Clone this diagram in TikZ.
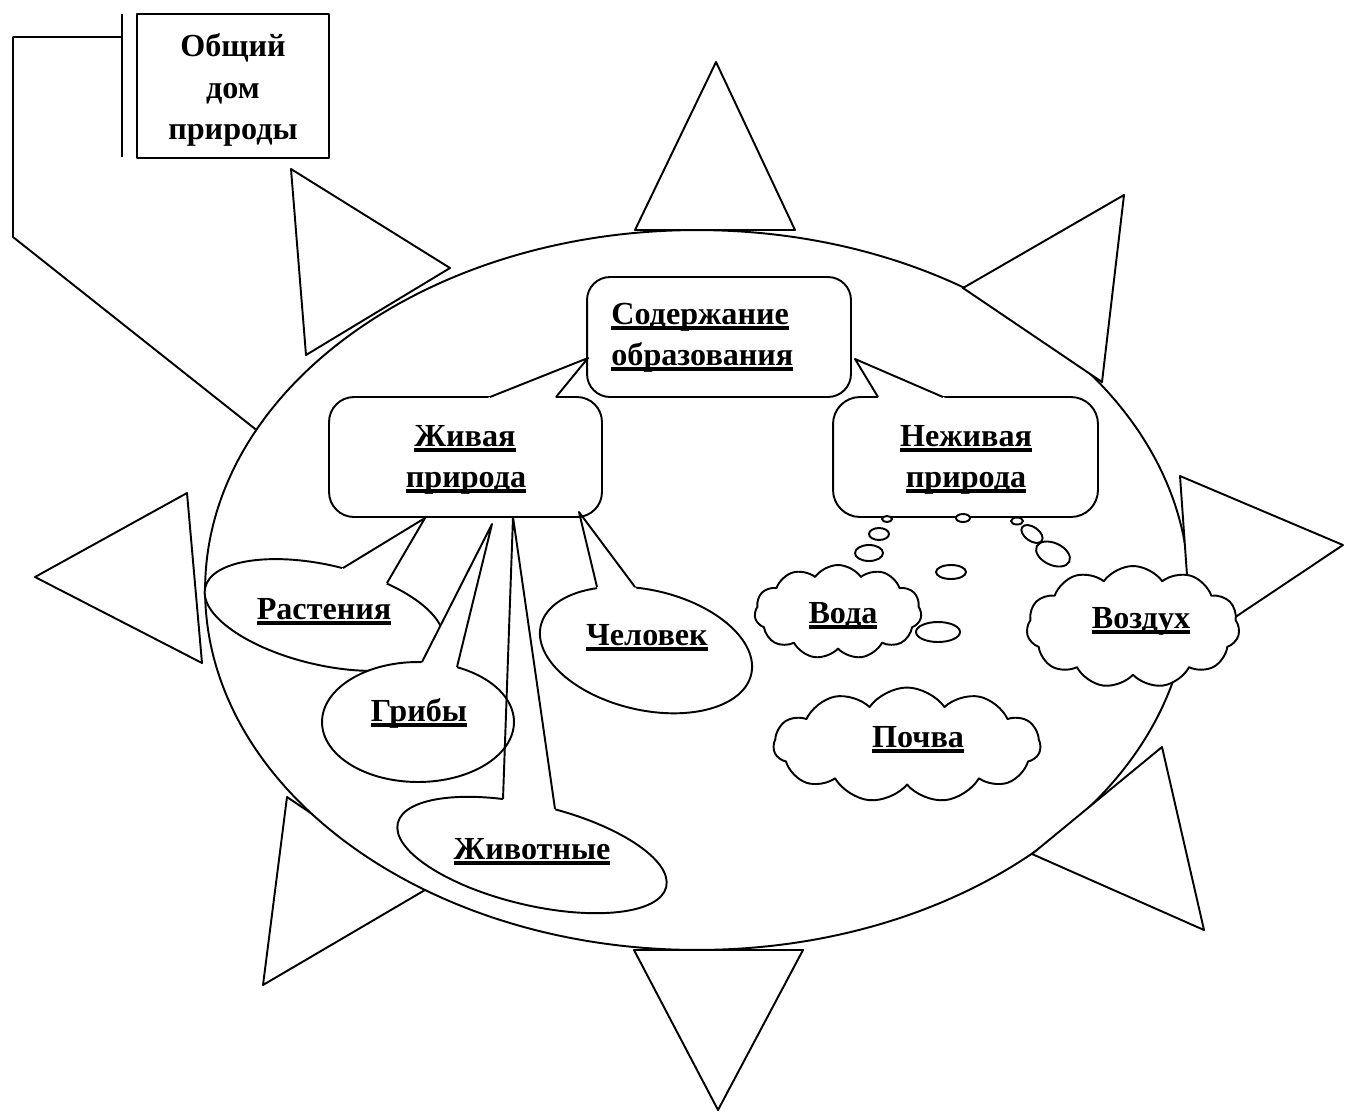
\documentclass[tikz,border=0pt]{standalone}
\usepackage{fontspec}
\setmainfont{Liberation Serif}
\usetikzlibrary{shapes.geometric,shapes.symbols,calc}

\newcommand{\ulw}[1]{\setbox0=\hbox{#1}\rlap{\rule[-3.6pt]{\wd0}{2.5pt}}\box0}
\newcommand{\wedgeto}[3]{%
  \fill[white] ($(#1)!4pt!(#2)$) -- ($(#3)!4pt!(#2)$) -- ($(#3)!-3pt!(#2)$) -- ($(#1)!-3pt!(#2)$) -- cycle;
  \draw[pen] (#1) -- (#2) -- (#3);}

\tikzset{
  pen/.style={line width=1.1pt, line join=round},
  ray/.style={pen, fill=white},
  frame/.style={pen, draw, fill=white, rounded corners=0.5cm, inner sep=0pt},
  oval/.style={pen, draw, fill=white, ellipse, inner sep=0pt},
  bubble/.style={pen, fill=white},
  puff/.style={pen, draw, fill=white, cloud, cloud puffs=11, cloud puff arc=110, cloud ignores aspect, inner sep=0pt},
  title/.style={font=\bfseries\fontsize{18.3}{23.8}\selectfont},
  word/.style={title, inner sep=0pt, anchor=base},
}

\begin{document}
\begin{tikzpicture}[x=0.02cm, y=-0.02cm]
\useasboundingbox (0,0) rectangle (1345,1113);

	% ray behind the sun
	\draw[ray] (287,797) -- (263,985) -- (425,890) -- cycle;

	\node[oval, minimum width=19.68cm, minimum height=14.4cm] (sun) at (697,590) {};

	% rays
	\draw[ray] (635,230) -- (716,62) -- (795,230) -- cycle;
	\draw[ray] (963,288) -- (1124,195) -- (1102,382) -- cycle;
	\draw[ray] (1180,476) -- (1343,545) -- (1192,646) -- cycle;
	\draw[ray] (1032,854) -- (1162,747) -- (1204,930) -- cycle;
	\draw[ray] (634,950) -- (803,950) -- (718,1110) -- cycle;
	\draw[ray] (35,577) -- (187,493) -- (202,663) -- cycle;
	\draw[ray] (291,169) -- (450,268) -- (306,355) -- cycle;

	% callout with the title
	\node[pen, draw, minimum width=3.84cm, minimum height=2.88cm, inner sep=0pt] (house) at (233,86) {};
	\node[title, align=center, inner sep=0pt] (houseL) at (233,90) {Общий\\дом\\природы};
	\draw[pen] (122,14) -- (122,157);
	\coordinate (bar) at (122,37);
	\draw[pen] (bar) -- (13,37) -- (13,237) -- (sun.160.4);

	% boxes
	\node[frame, rounded corners=0.46cm, minimum width=5.28cm, minimum height=2.4cm] (content) at (719,337) {};
	\node[frame, minimum width=5.46cm, minimum height=2.4cm] (live) at (465.5,457) {};
	\node[frame, rounded corners=0.54cm, minimum width=5.3cm, minimum height=2.4cm] (dead) at (965.5,457) {};

	\coordinate (lb1) at (490,397); \coordinate (lt) at (588,358); \coordinate (lb2) at (556,397);
	\wedgeto{lb1}{lt}{lb2}
	\coordinate (db1) at (878,397); \coordinate (dt) at (855,359); \coordinate (db2) at (943,397);
	\wedgeto{db1}{dt}{db2}

	% living nature
	\node[oval, minimum width=5.52cm, minimum height=2cm, rotate=-13.4] (animalsE) at (532,855) {};
	\node[oval, minimum width=4.88cm, minimum height=2cm, rotate=-13] (plantsE) at (324,615) {};
	\node[oval, minimum width=3.84cm, minimum height=2.4cm] (fungiE) at (418,722) {};
	\node[oval, minimum width=4.32cm, minimum height=2.4cm, rotate=-13] (humanE) at (646,650) {};

	\coordinate (pb1) at (343,568); \coordinate (pt) at (425,518); \coordinate (pb2) at (387,583);
	\wedgeto{pb1}{pt}{pb2}
	\coordinate (fb1) at (422,662); \coordinate (ft) at (492,524); \coordinate (fb2) at (457,667);
	\fill[white] (fb1) -- (ft) -- (fb2) -- cycle;
	\wedgeto{fb1}{ft}{fb2}
	\coordinate (ab1) at (503,799); \coordinate (at) at (513,517); \coordinate (ab2) at (555,809);
	\wedgeto{ab1}{at}{ab2}
	\coordinate (hb1) at (597,587); \coordinate (ht) at (579,512); \coordinate (hb2) at (635,587);
	\wedgeto{hb1}{ht}{hb2}

	% non-living nature
	\draw[bubble] (887,519) ellipse [x radius=5, y radius=3];
	\draw[bubble] (879,534) ellipse [x radius=10, y radius=6];
	\draw[bubble] (869,553) ellipse [x radius=14, y radius=8];
	\draw[bubble] (963,518) ellipse [x radius=7, y radius=4];
	\draw[bubble] (951,572) ellipse [x radius=15, y radius=7];
	\draw[bubble] (938,632) ellipse [x radius=22, y radius=10];
	\draw[bubble] (1017,521) ellipse [x radius=6, y radius=3.5];
	\draw[bubble, rotate around={-35:(1032,534)}] (1032,534) ellipse [x radius=12, y radius=7];
	\draw[bubble, rotate around={-25:(1053,554)}] (1053,554) ellipse [x radius=18, y radius=11];

	\node[puff, minimum width=3.34cm, minimum height=1.88cm] (water) at (838,612) {};
	\node[puff, minimum width=4.26cm, minimum height=2.44cm] (air) at (1133,627) {};
	\node[puff, minimum width=5.34cm, minimum height=2.3cm] (soil) at (907,745) {};

	% labels
	\node[word, anchor=base west] (sod1) at (611,324) {\ulw{Содержание}};
	\node[word, anchor=base west] (sod2) at (611,365) {\ulw{образования}};
	\node[word] (liv1) at (465,446) {\ulw{Живая}};
	\node[word] (liv2) at (466,487) {\ulw{природа}};
	\node[word] (nliv1) at (966,446) {\ulw{Неживая}};
	\node[word] (nliv2) at (966,487) {\ulw{природа}};
	\node[word] (plants) at (324,619) {\ulw{Растения}};
	\node[word] (fungi) at (419,721) {\ulw{Грибы}};
	\node[word] (animals) at (532,859) {\ulw{Животные}};
	\node[word] (human) at (647,645) {\ulw{Человек}};
	\node[word] (waterL) at (843,623) {\ulw{Вода}};
	\node[word] (airL) at (1141,628) {\ulw{Воздух}};
	\node[word] (soilL) at (918,747) {\ulw{Почва}};

\end{tikzpicture}
\end{document}
